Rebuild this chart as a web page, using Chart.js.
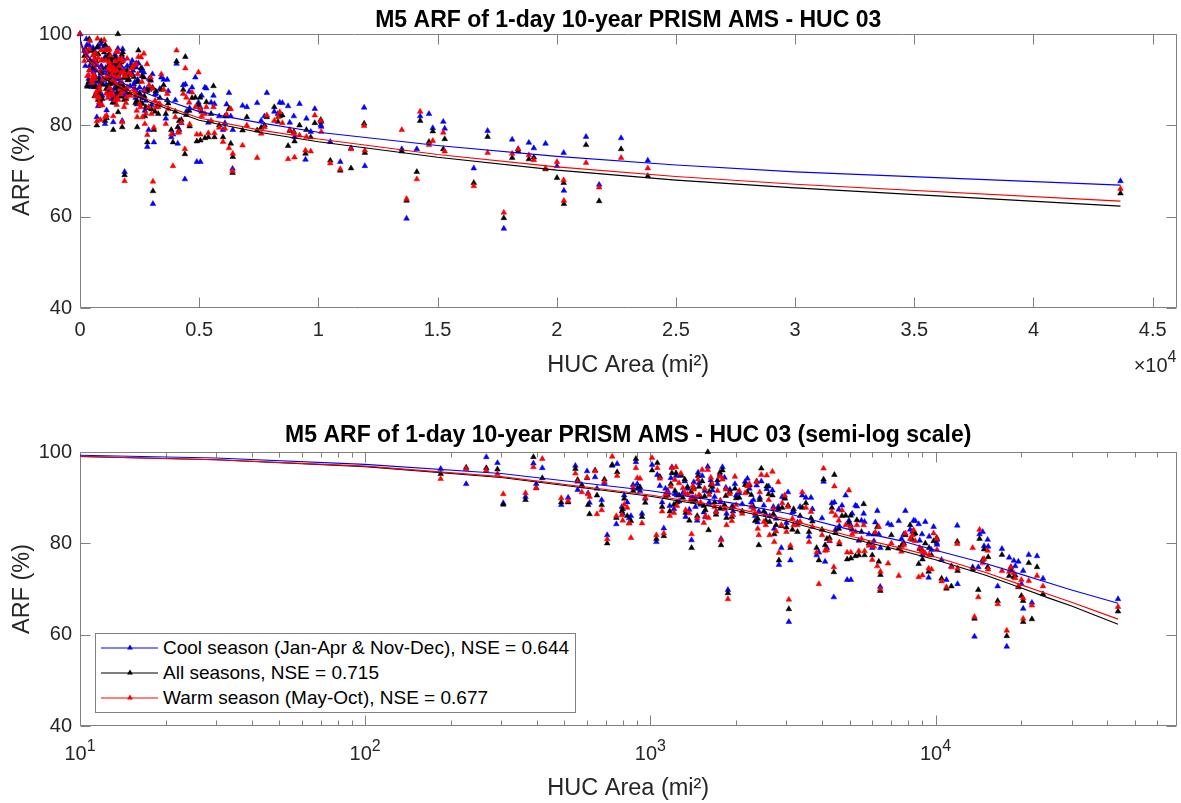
<!DOCTYPE html>
<html>
<head>
<meta charset="utf-8">
<title>M5 ARF of 1-day 10-year PRISM AMS - HUC 03</title>
<script src="https://cdn.jsdelivr.net/npm/chart.js@4.4.1/dist/chart.umd.min.js"></script>
<style>
  body { margin: 0; background: #fff; }
  #page { position: relative; width: 1181px; height: 803px; overflow: hidden; background: #fff; }
  .panel { position: absolute; left: 0; width: 1181px; }
  #topPanel { top: 0; height: 400px; }
  #bottomPanel { top: 400px; height: 403px; }
  #legend {
    position: absolute; left: 95px; top: 633px; width: 481px; height: 80px;
    box-sizing: border-box; border: 1px solid #808080; background: #fff; padding-top: 1.5px;
    font-family: 'Liberation Sans', Arial, Helvetica, sans-serif;
  }
  .row { height: 25px; display: flex; align-items: center; font-size: 19px; color: #000; white-space: nowrap; }
  .row svg { flex: none; margin-right: 1px; }
</style>
</head>
<body>
<div id="page">
  <div class="panel" id="topPanel"><canvas id="topChart" width="1181" height="400"></canvas></div>
  <div class="panel" id="bottomPanel"><canvas id="bottomChart" width="1181" height="403"></canvas></div>
  <div id="legend"></div>
</div>
<script>
// HUC drainage areas (mi^2) and ARF (%) per season
const hucArea = [
  0, 184, 226, 266, 291, 305, 365, 389, 398, 418,
  487, 515, 546, 556, 575, 600, 605, 612, 640, 650,
  675, 690, 706, 735, 760, 765, 795, 810, 843, 855,
  870, 890, 920, 935, 960, 1014, 1058, 800, 830, 900,
  1050, 1080, 1100, 1115, 1150, 1180, 1190, 1210, 1220, 1230,
  1261, 1280, 1300, 1330, 1350, 1390, 1395, 1420, 1440, 1460,
  1482, 1520, 1550, 1560, 1590, 1600, 1609, 1650, 1700, 1753,
  1770, 1790, 1820, 1850, 1871, 1900, 1930, 1980, 2000, 1130,
  1170, 1240, 1320, 1370, 1410, 1470, 1500, 1540, 1630, 1680,
  1720, 1760, 1840, 1950, 2050, 2100, 2150, 2190, 2225, 2260,
  2300, 2330, 2360, 2380, 2400, 2420, 2450, 2500, 2540, 2560,
  2600, 2620, 2680, 2700, 2720, 2760, 2810, 2825, 2880, 2900,
  2960, 3000, 3040, 3060, 3100, 3150, 3180, 3280, 3350, 3410,
  3510, 3600, 3660, 3700, 3830, 3900, 4000, 4050, 4100, 4160,
  4250, 4330, 4400, 4420, 4460, 4580, 4600, 4700, 4840, 4900,
  4970, 5040, 5050, 5100, 5240, 5300, 5383, 5500, 5600, 5640,
  5840, 6000, 6080, 6150, 6250, 6325, 6400, 6410, 6820, 7000,
  7432, 7600, 7740, 7840, 8150, 8300, 8380, 8490, 8730, 8800,
  8970, 9000, 9210, 9460, 9500, 9680, 9850, 10100, 10120, 10500,
  10920, 11370, 11920, 11950, 13500, 13700, 14130, 14270, 14640, 14800,
  15240, 15300, 16520, 17100, 17780, 18130, 18380, 18830, 19040, 19530,
  20010, 20290, 20300, 21230, 21780, 22700, 23820, 43650
];

const arfCool = [
  100, 96.3, 93.0, 98.9, 97.6, 88.8, 90.2, 97.5, 93.0, 96.5,
  88.4, 90.0, 97.0, 91.7, 92.5, 95.8, 91.0, 88.9, 94.5, 92.0,
  89.5, 93.2, 81.8, 97.0, 84.2, 97.4, 88.0, 90.5, 85.5, 86.0,
  92.8, 97.8, 91.5, 86.5, 89.8, 97.2, 95.0, 86.5, 89.0, 93.0,
  80.3, 92.6, 89.0, 83.3, 91.5, 94.3, 96.7, 87.5, 90.8, 94.8,
  89.2, 94.8, 91.0, 85.8, 92.0, 89.6, 80.7, 93.4, 88.0, 85.0,
  93.2, 94.8, 91.5, 85.8, 96.8, 88.6, 89.0, 91.6, 87.0, 95.0,
  81.0, 96.7, 94.4, 86.5, 69.8, 91.8, 88.0, 93.0, 90.5, 92.0,
  88.2, 90.5, 93.6, 87.4, 90.0, 95.5, 88.5, 86.8, 93.8, 90.2,
  93.0, 89.0, 92.2, 87.0, 91.0, 88.6, 93.5, 94.2, 92.0, 89.0,
  89.5, 86.0, 92.7, 84.6, 87.0, 90.0, 93.6, 88.3, 86.4, 91.9,
  92.5, 86.0, 91.6, 88.0, 83.2, 85.4, 88.0, 75.3, 79.0, 90.2,
  89.8, 84.5, 91.2, 62.8, 76.3, 86.8, 87.0, 84.6, 88.0, 90.5,
  90.0, 81.5, 90.0, 87.5, 77.4, 78.0, 85.5, 93.5, 76.0, 79.0,
  80.5, 88.8, 68.2, 89.0, 83.0, 87.4, 83.8, 88.3, 90.5, 72.0,
  85.0, 84.0, 72.0, 86.5, 88.3, 88.1, 80.6, 85.0, 86.5, 84.7,
  82.0, 79.0, 80.5, 84.6, 87.1, 82.0, 70.5, 79.0, 84.3, 84.0,
  84.9, 81.0, 82.0, 87.1, 83.0, 82.5, 85.0, 84.9, 84.2, 80.6,
  82.0, 77.5, 84.7, 72.5, 81.5, 78.6, 83.6, 80.1, 79.7, 76.4,
  72.0, 75.0, 83.9, 71.1, 74.8, 59.6, 74.8, 82.0, 82.5, 79.4,
  80.8, 79.3, 70.6, 78.8, 57.4, 76.9, 74.8, 76.2, 75.0, 76.0,
  71.1, 74.0, 65.7, 77.5, 67.0, 77.2, 72.3, 67.8
];

const arfAll = [
  100, 95.2, 96.6, 96.5, 96.2, 88.5, 89.5, 98.9, 92.1, 94.3,
  89.0, 89.0, 96.3, 93.9, 92.8, 94.3, 88.4, 86.4, 96.0, 90.5,
  88.4, 94.0, 80.0, 97.2, 85.6, 95.6, 87.0, 89.8, 84.4, 84.9,
  91.5, 98.5, 92.3, 85.8, 88.9, 96.0, 97.6, 87.5, 86.0, 92.0,
  81.0, 94.6, 88.0, 81.6, 90.6, 93.0, 95.4, 88.5, 91.5, 95.4,
  90.5, 95.0, 90.0, 86.7, 92.4, 91.3, 79.0, 92.2, 89.5, 86.0,
  92.4, 93.6, 90.3, 87.3, 100.0, 82.9, 91.3, 92.4, 86.3, 95.5,
  79.6, 96.0, 88.4, 85.6, 69.1, 91.3, 85.8, 92.0, 89.9, 90.2,
  87.0, 89.0, 94.0, 85.0, 89.2, 94.8, 90.2, 88.2, 92.8, 89.0,
  93.8, 87.6, 90.4, 88.0, 90.0, 87.0, 92.8, 91.2, 92.7, 90.6,
  88.0, 84.9, 93.6, 85.4, 79.6, 89.5, 96.4, 87.0, 85.0, 92.5,
  90.8, 84.7, 90.5, 86.4, 82.0, 84.0, 87.5, 76.3, 83.8, 87.8,
  90.0, 83.5, 88.3, 65.6, 79.0, 83.0, 87.5, 82.5, 86.0, 87.8,
  88.8, 82.5, 85.5, 84.8, 79.0, 76.3, 83.0, 94.0, 79.6, 81.0,
  81.2, 87.8, 73.7, 95.0, 82.3, 83.2, 79.8, 86.0, 86.1, 76.5,
  84.5, 86.1, 76.7, 83.0, 77.2, 85.1, 77.4, 82.5, 88.6, 77.4,
  80.0, 77.4, 82.0, 82.0, 83.6, 76.0, 69.6, 73.1, 78.9, 81.8,
  78.9, 79.5, 80.0, 81.8, 84.0, 80.8, 82.0, 82.2, 75.5, 78.8,
  78.6, 76.5, 80.0, 73.8, 79.0, 77.4, 80.5, 81.2, 80.8, 72.3,
  70.1, 70.6, 80.4, 74.0, 74.3, 63.5, 69.8, 81.0, 76.4, 78.7,
  74.8, 77.0, 67.4, 77.5, 59.7, 72.9, 74.3, 72.6, 73.0, 70.4,
  68.5, 67.4, 62.8, 75.7, 63.4, 74.8, 68.9, 65.1
];

const arfWarm = [
  100, 94.1, 96.3, 96.0, 95.2, 90.8, 91.0, 96.7, 92.1, 98.5,
  89.9, 89.3, 95.3, 93.5, 91.2, 94.4, 90.8, 90.2, 95.8, 86.4,
  87.3, 93.5, 80.9, 99.0, 86.0, 94.8, 86.2, 88.5, 84.4, 81.2,
  92.2, 96.5, 94.2, 84.4, 90.0, 98.7, 96.5, 85.0, 87.8, 94.3,
  81.8, 94.2, 87.0, 82.2, 91.0, 92.4, 96.5, 86.7, 93.9, 96.7,
  93.2, 95.3, 92.1, 87.3, 90.8, 90.0, 82.0, 91.8, 90.2, 85.5,
  90.6, 96.1, 92.0, 86.0, 96.1, 85.6, 90.6, 93.0, 86.8, 94.6,
  80.7, 94.0, 87.5, 84.0, 67.8, 90.8, 84.9, 94.6, 88.4, 90.8,
  86.0, 88.2, 91.0, 86.6, 92.6, 94.0, 89.0, 84.5, 94.4, 88.0,
  91.5, 89.4, 91.8, 86.2, 91.5, 86.5, 91.0, 92.5, 93.0, 88.0,
  87.5, 86.5, 93.4, 83.2, 81.8, 91.2, 95.0, 84.7, 84.0, 94.9,
  89.5, 81.8, 95.7, 87.5, 80.3, 82.6, 93.4, 77.9, 84.0, 88.8,
  90.5, 82.5, 88.0, 67.7, 79.5, 85.4, 84.0, 84.0, 84.7, 91.2,
  87.8, 80.3, 86.9, 83.6, 78.0, 71.1, 81.8, 96.4, 78.4, 78.5,
  80.6, 86.9, 74.8, 92.5, 86.1, 85.0, 80.2, 87.2, 84.0, 78.0,
  91.6, 83.6, 78.0, 82.0, 82.5, 84.0, 78.3, 81.0, 84.0, 78.3,
  79.5, 76.4, 79.3, 82.4, 75.0, 83.6, 70.0, 73.8, 75.6, 80.0,
  72.9, 78.2, 79.6, 82.2, 81.0, 81.8, 82.9, 80.5, 72.6, 79.0,
  78.3, 73.0, 77.8, 74.5, 77.5, 74.3, 82.2, 81.0, 78.6, 71.7,
  70.4, 74.8, 79.9, 74.5, 79.0, 63.9, 68.2, 83.0, 75.7, 76.6,
  78.4, 74.3, 66.7, 74.0, 60.9, 73.8, 74.8, 73.5, 72.4, 70.6,
  72.0, 68.0, 63.5, 71.8, 66.4, 72.9, 70.6, 66.1
];

// fitted M5 curves, read at selected areas
const fitArea = [0, 10, 30, 100, 300, 1000, 2000, 3000, 5000, 7500, 10000, 15000, 20000, 25000, 30000, 43650];
const fitCool = [100, 99.3, 98.7, 97.3, 95.3, 91.5, 88.7, 86.6, 83.0, 80.6, 78.5, 75.6, 73.2, 71.3, 69.8, 66.9];
const fitAll  = [100, 99.0, 98.3, 96.8, 94.4, 90.3, 87.2, 84.9, 81.1, 78.5, 76.4, 73.0, 70.2, 68.0, 66.3, 62.3];
const fitWarm = [100, 99.0, 98.3, 96.9, 94.6, 90.6, 87.6, 85.3, 81.6, 79.0, 77.0, 73.6, 70.9, 68.8, 67.1, 63.4];

// axis ticks
const arfTicks = [40, 60, 80, 100];
const linTicks = [0, 5000, 10000, 15000, 20000, 25000, 30000, 35000, 40000, 45000];
const logTicks = [10, 100, 1000, 10000];

const legendLabels = [
  'Cool season (Jan-Apr & Nov-Dec), NSE = 0.644',
  'All seasons, NSE = 0.715',
  'Warm season (May-Oct), NSE = 0.677'
];
const seriesColors = ['#0000ff', '#000000', '#ff0000'];

const titleTop = 'M5 ARF of 1-day 10-year PRISM AMS - HUC 03';
const titleBottom = 'M5 ARF of 1-day 10-year PRISM AMS - HUC 03 (semi-log scale)';

const FONT = "'Liberation Sans', Arial, Helvetica, sans-serif";
const AXIS_GRAY = '#808080';
const TEXT_GRAY = '#262626';

Chart.defaults.font.family = FONT;
Chart.defaults.animation = false;

// minor ticks for the log axis (2..9 in each decade)
const logMinor = [];
logTicks.forEach(d => {
  for (let m = 2; m <= 9; m++) if (d * m < 70000) logMinor.push(d * m);
});

function pairs(xs, ys, keep) {
  const out = [];
  xs.forEach((x, i) => { if (keep(x)) out.push({ x, y: ys[i] }); });
  return out;
}

function markerSet(label, ys, color, order, keep) {
  return {
    label,
    data: pairs(hucArea, ys, keep),
    showLine: false,
    pointStyle: 'triangle',
    pointRadius: 3.3,
    pointBorderWidth: 0.5,
    pointBackgroundColor: color,
    pointBorderColor: color,
    order,
    clip: false
  };
}

function fitSet(label, ys, color, keep) {
  return {
    label,
    data: pairs(fitArea, ys, keep),
    showLine: true,
    pointRadius: 0,
    borderWidth: 1.1,
    borderColor: color,
    backgroundColor: color,
    fill: false,
    tension: 0,
    order: 0
  };
}

function buildDatasets(keep) {
  return [
    fitSet('Cool fit', fitCool, seriesColors[0], keep),
    fitSet('Warm fit', fitWarm, seriesColors[2], keep),
    fitSet('All fit', fitAll, seriesColors[1], keep),
    markerSet(legendLabels[2], arfWarm, seriesColors[2], 1, keep),
    markerSet(legendLabels[1], arfAll, seriesColors[1], 2, keep),
    markerSet(legendLabels[0], arfCool, seriesColors[0], 3, keep)
  ];
}

// MATLAB-like box with inward ticks, plus superscript labels
const axesDecor = {
  id: 'axesDecor',
  beforeDatasetsDraw(chart, args, o) {
    const { ctx, chartArea: a } = chart;
    const xs = chart.scales.x, ys = chart.scales.y;
    const L = Math.round(a.left) + 0.5, R = Math.round(a.right) - 0.5;
    const T = Math.round(a.top) + 0.5, B = Math.round(a.bottom) - 0.5;
    ctx.save();
    ctx.strokeStyle = AXIS_GRAY;
    ctx.lineWidth = 1;
    ctx.beginPath();
    ctx.rect(L, T, R - L, B - T);
    const seg = (x1, y1, x2, y2) => { ctx.moveTo(x1, y1); ctx.lineTo(x2, y2); };
    const xMajor = o.log ? logTicks : linTicks;
    xMajor.forEach(v => {
      const p = Math.round(xs.getPixelForValue(v)) + 0.5;
      seg(p, B, p, B - 10);
      seg(p, T, p, T + 10);
    });
    if (o.log) {
      logMinor.forEach(v => {
        const p = Math.round(xs.getPixelForValue(v)) + 0.5;
        seg(p, B, p, B - 5);
        seg(p, T, p, T + 5);
      });
    }
    arfTicks.forEach(v => {
      const p = Math.round(ys.getPixelForValue(v)) + 0.5;
      seg(L, p, L + 10, p);
      seg(R, p, R - 10, p);
    });
    ctx.stroke();
    ctx.restore();
  },
  afterDraw(chart, args, o) {
    const { ctx, chartArea: a } = chart;
    const xs = chart.scales.x;
    ctx.save();
    ctx.fillStyle = TEXT_GRAY;
    ctx.textBaseline = 'alphabetic';
    ctx.textAlign = 'left';
    const big = '20px ' + FONT, small = '16px ' + FONT;
    if (o.log) {
      logTicks.forEach(v => {
        const e = String(Math.round(Math.log10(v)));
        ctx.font = big; const wb = ctx.measureText('10').width;
        ctx.font = small; const we = ctx.measureText(e).width;
        const x0 = xs.getPixelForValue(v) - (wb + we) / 2;
        ctx.font = big; ctx.fillText('10', x0, a.bottom + 34);
        ctx.font = small; ctx.fillText(e, x0 + wb, a.bottom + 25);
      });
    } else {
      ctx.font = small; const we = ctx.measureText('4').width;
      ctx.font = big; const wb = ctx.measureText('\u00d710').width;
      const x0 = a.right - we - wb;
      ctx.fillText('\u00d710', x0, a.bottom + 64);
      ctx.font = small; ctx.fillText('4', x0 + wb, a.bottom + 54);
    }
    ctx.restore();
  }
};

function yScale() {
  return {
    type: 'linear',
    min: 40,
    max: 100,
    afterBuildTicks: s => { s.ticks = arfTicks.map(v => ({ value: v })); },
    afterFit: s => { s.width = 80; },
    grid: { display: false, drawTicks: false },
    border: { display: false },
    ticks: { font: { size: 20 }, color: TEXT_GRAY, padding: 8 },
    title: { display: true, text: 'ARF (%)', font: { size: 23.5 }, color: TEXT_GRAY, padding: { top: 8, bottom: 0 } }
  };
}

function titleOpts(text, top, bottom) {
  return {
    display: true,
    text,
    fullSize: false,
    color: '#000',
    font: { size: 23, weight: 'bold', lineHeight: 1.1 },
    padding: { top, bottom }
  };
}

new Chart(document.getElementById('topChart'), {
  type: 'scatter',
  data: { datasets: buildDatasets(() => true) },
  options: {
    responsive: false,
    layout: { padding: { left: 0, right: 3, top: 0, bottom: 0 } },
    plugins: {
      legend: { display: false },
      tooltip: { enabled: false },
      title: titleOpts(titleTop, 8.3, 0.4),
      axesDecor: { log: false }
    },
    scales: {
      x: {
        type: 'linear',
        min: 0,
        max: 46000,
        afterBuildTicks: s => { s.ticks = linTicks.map(v => ({ value: v })); },
        afterFit: s => { s.height = 92; },
        grid: { display: false, drawTicks: false },
        border: { display: false },
        ticks: { font: { size: 20 }, color: TEXT_GRAY, padding: 10, maxRotation: 0, autoSkip: false, callback: v => String(v / 10000) },
        title: { display: true, text: 'HUC Area (mi\u00b2)', font: { size: 23.5 }, color: TEXT_GRAY, padding: { top: 0, bottom: 20 } }
      },
      y: yScale()
    }
  },
  plugins: [axesDecor]
});

new Chart(document.getElementById('bottomChart'), {
  type: 'scatter',
  data: { datasets: buildDatasets(x => x > 0) },
  options: {
    responsive: false,
    layout: { padding: { left: 0, right: 3, top: 0, bottom: 0 } },
    plugins: {
      legend: { display: false },
      tooltip: { enabled: false },
      title: titleOpts(titleBottom, 23.3, 3.4),
      axesDecor: { log: true }
    },
    scales: {
      x: {
        type: 'logarithmic',
        min: 10,
        max: 70000,
        afterBuildTicks: s => { s.ticks = logTicks.map(v => ({ value: v })); },
        afterFit: s => { s.height = 77; },
        grid: { display: false, drawTicks: false },
        border: { display: false },
        ticks: { display: false },
        title: { display: true, text: 'HUC Area (mi\u00b2)', font: { size: 23.5 }, color: TEXT_GRAY, padding: { top: 0, bottom: 0 } }
      },
      y: yScale()
    }
  },
  plugins: [axesDecor]
});

// legend box inside the lower axes
const legend = document.getElementById('legend');
legendLabels.forEach((text, i) => {
  const row = document.createElement('div');
  row.className = 'row';
  const c = seriesColors[i];
  row.innerHTML =
    `<svg width="66" height="12" viewBox="0 0 66 12">
       <line x1="5" y1="6" x2="62" y2="6" stroke="${c}" stroke-width="1.2"/>
       <polygon points="34,2.6 31.1,7.6 36.9,7.6" fill="${c}"/>
     </svg><span>${text.replace('&', '&amp;')}</span>`;
  legend.appendChild(row);
});
</script>
</body>
</html>
